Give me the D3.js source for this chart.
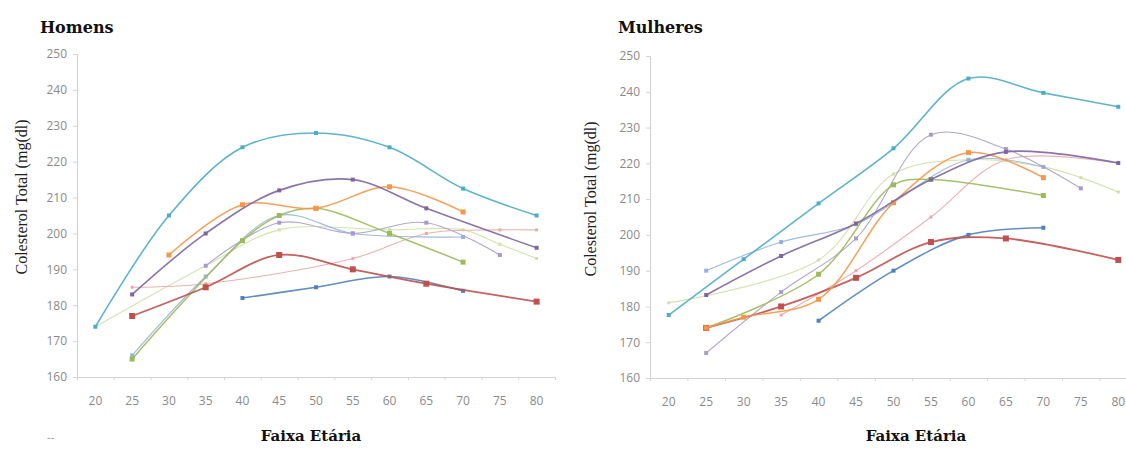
<!DOCTYPE html>
<html>
<head>
<meta charset="utf-8">
<script src="https://d3js.org/d3.v7.min.js"></script>
<style>
  body { margin: 0; background: #fff; }
  .tick-label { font-family: "Open Sans", "Liberation Sans", sans-serif; font-size: 12px; fill: #8a8a8a; }
  .title { font-family: "DejaVu Serif", serif; font-weight: bold; font-size: 16px; fill: #111; }
  .xlabel { font-family: "DejaVu Serif", serif; font-weight: bold; font-size: 15px; fill: #111; }
  .ylabel { font-family: "Liberation Serif", serif; font-size: 16px; fill: #222; }
</style>
</head>
<body>
<svg id="chart" width="1126" height="470"></svg>
<script>
  // age groups on the x axis
  const ages = [20, 25, 30, 35, 40, 45, 50, 55, 60, 65, 70, 75, 80];
  const yTicks = [160, 170, 180, 190, 200, 210, 220, 230, 240, 250];

  // Homens - one array of [age, colesterol] per study
  const menCyan     = [[20,174],[30,205],[40,224],[50,228],[60,224],[70,212.5],[80,205]];
  const menPurple   = [[25,183],[35,200],[45,212],[55,215],[65,207],[80,196]];
  const menOrange   = [[30,194],[40,208],[50,207],[60,213],[70,206]];
  const menGreen    = [[25,165],[40,198],[45,205],[50,207],[60,200],[70,192]];
  const menRed      = [[25,177],[35,185],[45,194],[55,190],[65,186],[80,181]];
  const menBlue     = [[40,182],[50,185],[60,188],[70,184]];
  const menLavender = [[35,191],[45,203],[55,200],[65,203],[75,194]];
  const menLtBlue   = [[25,166],[35,188],[45,205],[55,200],[70,199]];
  const menPale     = [[20,174],[35,191],[45,201],[60,201],[70,201],[75,197],[80,193]];
  const menPink     = [[25,185],[35,186],[55,193],[65,200],[75,201],[80,201]];

  // Mulheres
  const womCyan     = [[20,177.6],[30,193.2],[40,208.8],[50,224.2],[60,243.7],[70,239.7],[80,235.8]];
  const womPurple   = [[25,183.2],[35,194.1],[45,203.2],[55,215.5],[65,223.2],[80,220.1]];
  const womOrange   = [[25,174],[30,177],[40,182],[50,209],[60,223],[70,216]];
  const womGreen    = [[25,174],[40,189],[50,214],[55,215.5],[70,211]];
  const womRed      = [[25,174],[35,180],[45,188],[55,198],[65,199],[80,193]];
  const womBlue     = [[40,176],[50,190],[60,200],[70,202]];
  const womLavender = [[25,167],[35,184],[45,199],[55,228],[65,224],[75,213]];
  const womLtBlue   = [[25,190],[35,198],[45,203],[60,221],[70,219]];
  const womPale     = [[20,181],[40,193],[50,217],[60,221],[70,219],[75,216],[80,212]];
  const womPink     = [[35,177.6],[45,190],[55,205],[65,221],[80,220]];

  const styles = {
    cyan:     { color: "#4bacc6", w: 1.6, m: 4 },
    purple:   { color: "#8064a2", w: 1.6, m: 4 },
    orange:   { color: "#f79646", w: 1.5, m: 5 },
    green:    { color: "#9bbb59", w: 1.5, m: 5 },
    red:      { color: "#c0504d", w: 1.8, m: 6 },
    blue:     { color: "#4f81bd", w: 1.6, m: 4 },
    lavender: { color: "#a99bc9", w: 1.1, m: 4 },
    ltblue:   { color: "#93b4da", w: 1.1, m: 4 },
    pale:     { color: "#cfe0a6", w: 1.1, m: 3 },
    pink:     { color: "#e8aaa8", w: 1.1, m: 3 }
  };

  const panels = [
    {
      title: "Homens", titleX: 40, xRange: [77, 555], yRange: [377, 54],
      ylabX: 21, ylabY: 197, xlabX: 311, dash: true,
      series: [
        ["pale", menPale], ["pink", menPink], ["ltblue", menLtBlue], ["lavender", menLavender],
        ["green", menGreen], ["blue", menBlue], ["red", menRed], ["orange", menOrange],
        ["purple", menPurple], ["cyan", menCyan]
      ]
    },
    {
      title: "Mulheres", titleX: 618, xRange: [650, 1137], yRange: [378, 56],
      ylabX: 590, ylabY: 199, xlabX: 916, dash: false,
      series: [
        ["pale", womPale], ["pink", womPink], ["ltblue", womLtBlue], ["lavender", womLavender],
        ["green", womGreen], ["blue", womBlue], ["red", womRed], ["orange", womOrange],
        ["purple", womPurple], ["cyan", womCyan]
      ]
    }
  ];

  const svg = d3.select("#chart");

  panels.forEach(p => {
    const g = svg.append("g");
    const x = d3.scaleLinear().domain([17.5, 82.5]).range(p.xRange);
    const y = d3.scaleLinear().domain([160, 250]).range(p.yRange);

    // axes
    const yAxis = d3.axisLeft(y).tickValues(yTicks).tickSize(4).tickPadding(6);
    const ya = g.append("g").attr("transform", `translate(${p.xRange[0]},0)`).call(yAxis);
    const xAxis = d3.axisBottom(x).tickValues(d3.range(22.5, 83, 5)).tickSize(3).tickFormat("");
    const xa = g.append("g").attr("transform", `translate(0,${p.yRange[0]})`).call(xAxis);
    [ya, xa].forEach(a => {
      a.select(".domain").attr("stroke", "#d4d4d4").attr("stroke-width", 1.2);
      a.selectAll(".tick line").attr("stroke", "#d4d4d4");
    });
    ya.selectAll(".tick text").attr("class", "tick-label").attr("fill", null).attr("font-size", null).attr("font-family", null);

    g.selectAll("text.xt").data(ages).join("text")
      .attr("class", "tick-label xt")
      .attr("x", d => x(d))
      .attr("y", p.yRange[0] + 28)
      .attr("text-anchor", "middle")
      .text(d => d);

    // series
    const line = d3.line().x(d => x(d[0])).y(d => y(d[1])).curve(d3.curveCatmullRom.alpha(0.5));
    p.series.forEach(([key, data]) => {
      const s = styles[key];
      g.append("path").datum(data)
        .attr("d", line)
        .attr("fill", "none")
        .attr("stroke", s.color)
        .attr("stroke-width", s.w)
        .attr("stroke-opacity", 0.9);
      g.selectAll(null).data(data).join("rect")
        .attr("x", d => x(d[0]) - s.m / 2)
        .attr("y", d => y(d[1]) - s.m / 2)
        .attr("width", s.m)
        .attr("height", s.m)
        .attr("fill", s.color);
    });

    // labels
    g.append("text").attr("class", "title").attr("x", p.titleX).attr("y", 33).text(p.title);
    g.append("text").attr("class", "xlabel").attr("x", p.xlabX).attr("y", 441)
      .attr("text-anchor", "middle").text("Faixa Etária");
    g.append("text").attr("class", "ylabel")
      .attr("transform", `translate(${p.ylabX},${p.ylabY}) rotate(-90)`)
      .attr("text-anchor", "middle").attr("dy", "0.35em")
      .text("Colesterol Total (mg(dl)");
    if (p.dash) {
      g.append("text").attr("x", 47).attr("y", 441).attr("fill", "#999")
        .attr("font-family", "Liberation Sans, sans-serif").attr("font-size", 11).text("--");
    }
  });
</script>
</body>
</html>
